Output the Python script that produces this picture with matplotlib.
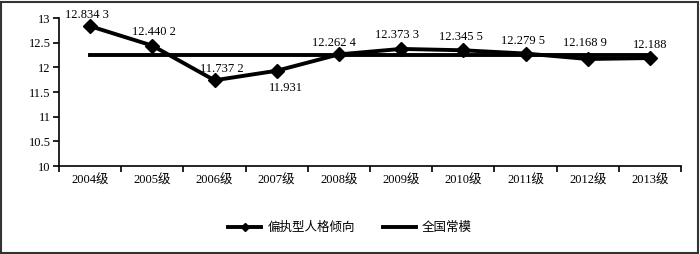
import matplotlib
matplotlib.use("Agg")
import matplotlib.pyplot as plt
from matplotlib.patches import Rectangle

plt.rcParams['font.family'] = ['Liberation Serif', 'Noto Sans CJK SC']

categories = ["2004级", "2005级", "2006级", "2007级", "2008级",
              "2009级", "2010级", "2011级", "2012级", "2013级"]
values = [12.8343, 12.4402, 11.7372, 11.931, 12.2624,
          12.3733, 12.3455, 12.2795, 12.1689, 12.188]
labels = ["12.834 3", "12.440 2", "11.737 2", "11.931", "12.262 4",
          "12.373 3", "12.345 5", "12.279 5", "12.168 9", "12.188"]
norm_value = 12.24
norm = [norm_value] * len(categories)
yticks = [10, 10.5, 11, 11.5, 12, 12.5, 13]
ytick_labels = ["10", "10.5", "11", "11.5", "12", "12.5", "13"]

FS = 9

fig = plt.figure(figsize=(7, 2.54), dpi=100)
ax = fig.add_axes([59/700, 1-166/254, (681-59)/700, (166-18)/254])

x = list(range(len(categories)))
ax.plot(x, values, color='black', lw=2.8, marker='D', markersize=7,
        label='偏执型人格倾向', zorder=3)
ax.plot(x, norm, color='black', lw=2.8, label='全国常模', zorder=2)

offsets = [(-2, 4), (1.5, 5.5), (5, 4), (6.5, -8), (-3.5, 4),
           (-3, 6), (-2, 5), (-2, 4.5), (-2, 7), (0, 5)]
for xi, v, lab, off in zip(x, values, labels, offsets):
    ax.annotate(lab, (xi, v), xytext=off, textcoords='offset points',
                ha='center', va='bottom' if off[1] > 0 else 'top', fontsize=FS)

ax.set_xlim(-0.5, len(categories) - 0.5)
ax.set_ylim(10, 13)
ax.set_yticks(yticks)
ax.set_yticklabels(ytick_labels, fontsize=FS)
ax.set_xticks([i - 0.5 for i in range(len(categories) + 1)])
ax.set_xticklabels([])
ax.set_xticks(x, minor=True)
ax.set_xticklabels(categories, minor=True, fontsize=FS)
ax.tick_params(axis='x', which='minor', length=0, pad=6)
ax.tick_params(axis='x', which='major', length=4, width=1.2, direction='out')
ax.tick_params(axis='y', length=4, width=1.2, direction='out', pad=2)
for s in ['top', 'right']:
    ax.spines[s].set_visible(False)
for s in ['left', 'bottom']:
    ax.spines[s].set_linewidth(1.2)

fig.legend(loc='center', bbox_to_anchor=(0.5, 1-228/254), ncol=2, frameon=False,
           fontsize=FS, handlelength=2.64, columnspacing=2.2, handletextpad=0.5,
           markerscale=0.6)

fig.patches.append(Rectangle((0.002, 0.004), 0.995, 0.99, transform=fig.transFigure,
                             fill=False, edgecolor='#333333', lw=1.5))

fig.savefig('out.png', dpi=100)
